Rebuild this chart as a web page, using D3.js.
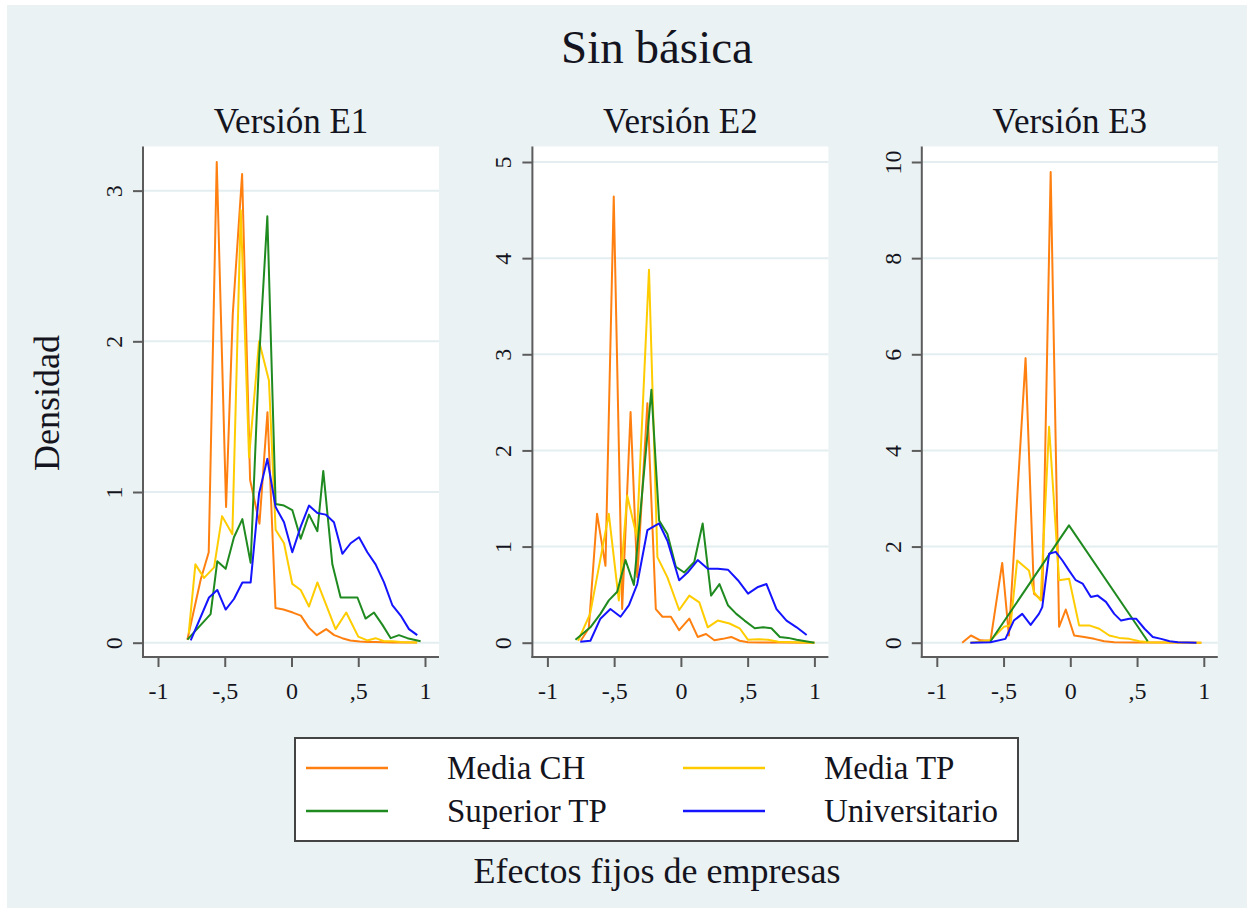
<!DOCTYPE html>
<html>
<head>
<meta charset="utf-8">
<script src="https://cdn.jsdelivr.net/npm/d3@7"></script>
<style>
body { margin: 0; background: #fff; }
text { font-family: "Liberation Serif", "Times New Roman", serif; fill: #141420; }
</style>
</head>
<body>
<svg id="chart" width="1253" height="913"></svg>
<script>
var seriesNames = ["Media CH", "Media TP", "Superior TP", "Universitario"];
var seriesColors = ["#ff8010", "#ffcc00", "#1f8a1f", "#1414ff"];
var panelTitles = ["Versión E1", "Versión E2", "Versión E3"];
var xTicks = [-1, -0.5, 0, 0.5, 1];
var xTickLabels = ["-1", "-,5", "0", ",5", "1"];
var yTicksE1 = [0, 1, 2, 3];
var yTicksE2 = [0, 1, 2, 3, 4, 5];
var yTicksE3 = [0, 2, 4, 6, 8, 10];

// [efecto fijo, densidad]
var e1MediaCH = [[-0.78,0.02],[-0.68,0.42],[-0.62,0.6],[-0.56,3.19],[-0.49,0.9],[-0.44,2.18],[-0.37,3.11],[-0.31,1.08],[-0.24,0.79],[-0.18,1.53],[-0.12,0.23],[-0.06,0.22],[0.01,0.2],[0.07,0.18],[0.13,0.1],[0.19,0.05],[0.26,0.09],[0.32,0.05],[0.38,0.03],[0.44,0.015],[0.51,0.008],[0.57,0.005],[0.63,0.004],[0.69,0.003],[0.76,0.002],[0.82,0.002],[0.88,0.001],[0.94,0.001]];
var e1MediaTP = [[-0.77,0.06],[-0.72,0.52],[-0.655,0.43],[-0.58,0.5],[-0.52,0.84],[-0.443,0.72],[-0.38,2.87],[-0.318,1.23],[-0.243,2.0],[-0.169,1.74],[-0.119,0.75],[-0.056,0.66],[0.006,0.39],[0.069,0.35],[0.131,0.24],[0.194,0.4],[0.256,0.26],[0.33,0.09],[0.41,0.2],[0.5,0.04],[0.568,0.015],[0.63,0.03],[0.693,0.01],[0.755,0.01],[0.818,0.005],[0.88,0.003],[0.942,0.002]];
var e1SuperiorTP = [[-0.78,0.02],[-0.606,0.19],[-0.556,0.54],[-0.493,0.49],[-0.431,0.7],[-0.368,0.82],[-0.306,0.53],[-0.243,1.88],[-0.181,2.83],[-0.119,0.92],[-0.056,0.91],[0.006,0.88],[0.069,0.69],[0.131,0.85],[0.194,0.74],[0.238,1.14],[0.306,0.52],[0.368,0.3],[0.431,0.3],[0.494,0.3],[0.555,0.16],[0.618,0.2],[0.68,0.12],[0.743,0.03],[0.805,0.05],[0.868,0.03],[0.967,0.01]];
var e1Universitario = [[-0.755,0.015],[-0.618,0.3],[-0.556,0.35],[-0.493,0.22],[-0.431,0.29],[-0.368,0.4],[-0.306,0.4],[-0.243,0.99],[-0.181,1.22],[-0.119,0.9],[-0.056,0.8],[0.006,0.6],[0.069,0.77],[0.131,0.91],[0.194,0.86],[0.256,0.85],[0.318,0.8],[0.381,0.59],[0.443,0.66],[0.506,0.7],[0.568,0.6],[0.63,0.52],[0.693,0.4],[0.755,0.25],[0.818,0.18],[0.88,0.09],[0.942,0.05]];

var e2MediaCH = [[-0.75,0.02],[-0.69,0.15],[-0.628,1.34],[-0.565,0.8],[-0.503,4.64],[-0.44,0.35],[-0.377,2.4],[-0.327,0.68],[-0.251,2.49],[-0.188,0.35],[-0.138,0.27],[-0.075,0.27],[-0.013,0.13],[0.063,0.25],[0.126,0.06],[0.188,0.09],[0.251,0.025],[0.314,0.04],[0.377,0.06],[0.44,0.02],[0.503,0.005],[0.6,0.003],[0.75,0.002],[1.0,0.0]];
var e2MediaTP = [[-0.77,0.02],[-0.68,0.3],[-0.54,1.34],[-0.465,0.44],[-0.402,1.53],[-0.33,1.1],[-0.239,3.88],[-0.176,0.89],[-0.101,0.68],[-0.013,0.34],[0.063,0.49],[0.138,0.42],[0.201,0.16],[0.276,0.23],[0.364,0.2],[0.44,0.15],[0.503,0.03],[0.578,0.035],[0.653,0.03],[0.729,0.01],[1.0,0.0]];
var e2SuperiorTP = [[-0.79,0.03],[-0.678,0.16],[-0.603,0.3],[-0.54,0.44],[-0.477,0.53],[-0.415,0.86],[-0.352,0.6],[-0.221,2.63],[-0.163,1.27],[-0.101,1.13],[-0.038,0.79],[0.025,0.73],[0.1,0.84],[0.163,1.24],[0.226,0.49],[0.289,0.61],[0.352,0.39],[0.415,0.3],[0.477,0.23],[0.553,0.15],[0.616,0.16],[0.678,0.15],[0.741,0.06],[0.804,0.05],[0.867,0.03],[1.0,0.0]];
var e2Universitario = [[-0.754,0.01],[-0.678,0.02],[-0.603,0.25],[-0.528,0.35],[-0.452,0.27],[-0.389,0.39],[-0.327,0.61],[-0.251,1.17],[-0.163,1.24],[-0.101,1.06],[-0.013,0.65],[0.05,0.73],[0.126,0.86],[0.201,0.77],[0.276,0.77],[0.352,0.76],[0.427,0.65],[0.503,0.51],[0.578,0.58],[0.641,0.61],[0.716,0.35],[0.791,0.23],[0.867,0.16],[0.942,0.08]];

var e3MediaCH = [[-0.81,0.0],[-0.744,0.15],[-0.674,0.05],[-0.598,0.04],[-0.51,1.66],[-0.46,0.15],[-0.335,5.92],[-0.272,1.02],[-0.21,0.88],[-0.147,9.79],[-0.084,0.33],[-0.034,0.69],[0.029,0.15],[0.104,0.12],[0.179,0.08],[0.254,0.03],[0.329,0.01],[0.5,0.005],[0.7,0.003],[0.982,0.0]];
var e3MediaTP = [[-0.749,0.0],[-0.598,0.05],[-0.498,0.33],[-0.448,0.36],[-0.398,1.71],[-0.31,1.5],[-0.272,1.05],[-0.222,0.88],[-0.159,4.49],[-0.084,1.3],[-0.009,1.33],[0.066,0.36],[0.142,0.36],[0.217,0.29],[0.292,0.15],[0.367,0.1],[0.442,0.08],[0.518,0.03],[0.593,0.01],[0.982,0.0]];
var e3SuperiorTP = [[-0.6,0.02],[-0.01,2.44],[0.58,0.03]];
var e3Universitario = [[-0.749,0.0],[-0.598,0.01],[-0.486,0.08],[-0.423,0.46],[-0.36,0.6],[-0.297,0.37],[-0.235,0.6],[-0.21,0.74],[-0.159,1.85],[-0.109,1.89],[-0.059,1.71],[-0.009,1.5],[0.041,1.3],[0.092,1.23],[0.154,0.95],[0.205,0.98],[0.267,0.85],[0.329,0.6],[0.38,0.46],[0.442,0.5],[0.493,0.5],[0.556,0.29],[0.618,0.12],[0.681,0.08],[0.744,0.03],[0.806,0.01],[0.945,0.0]];

var panels = [
    {title: panelTitles[0], yTicks: yTicksE1, series: [e1MediaCH, e1MediaTP, e1SuperiorTP, e1Universitario]},
    {title: panelTitles[1], yTicks: yTicksE2, series: [e2MediaCH, e2MediaTP, e2SuperiorTP, e2Universitario]},
    {title: panelTitles[2], yTicks: yTicksE3, series: [e3MediaCH, e3MediaTP, e3SuperiorTP, e3Universitario]}
];

var svg = d3.select("#chart");
var axisColor = "#5c5c5c";

svg.append("rect").attr("width", 1253).attr("height", 913).attr("fill", "#fff");
svg.append("rect")
    .attr("x", 7).attr("y", 5)
    .attr("width", 1240).attr("height", 903)
    .attr("fill", "#eaf2f3");

svg.append("text")
    .attr("x", 657).attr("y", 63)
    .attr("text-anchor", "middle")
    .style("font-size", "47px")
    .text("Sin básica");

var plotTop = 146.5, plotBottom = 657, plotW = 296;

panels.forEach(function(p, i) {
    var left = 143 + i * 389.4;
    var x = d3.scaleLinear().domain([-1, 1]).range([left + 15, left + 282]);
    var dataMax = d3.max(p.series, function(s) { return d3.max(s, function(d) { return d[1]; }); });
    var yMax = Math.max(dataMax, d3.max(p.yTicks));
    var y = d3.scaleLinear().domain([0, yMax]).range([642.7, 162]);

    var g = svg.append("g");

    g.append("rect")
        .attr("x", left).attr("y", plotTop)
        .attr("width", plotW).attr("height", plotBottom - plotTop)
        .attr("fill", "#fff");

    g.selectAll("line.grid")
        .data(p.yTicks)
        .enter()
        .append("line")
        .attr("class", "grid")
        .attr("x1", left).attr("x2", left + plotW)
        .attr("y1", function(d) { return y(d); })
        .attr("y2", function(d) { return y(d); })
        .attr("stroke", "#e4eef0")
        .attr("stroke-width", 2);

    var line = d3.line()
        .x(function(d) { return x(d[0]); })
        .y(function(d) { return y(d[1]); });

    g.selectAll("path.serie")
        .data(p.series)
        .enter()
        .append("path")
        .attr("class", "serie")
        .attr("d", line)
        .attr("fill", "none")
        .attr("stroke", function(d, k) { return seriesColors[k]; })
        .attr("stroke-width", 2)
        .attr("stroke-linejoin", "round");

    // ejes
    var yAxis = g.append("g")
        .attr("transform", "translate(" + left + ",0)")
        .call(d3.axisLeft(y).tickValues(p.yTicks).tickSize(10).tickSizeOuter(0)
            .tickFormat(d3.format("d")));
    yAxis.select(".domain").remove();
    yAxis.selectAll("line").attr("stroke", axisColor).attr("stroke-width", 2);
    yAxis.selectAll("text")
        .attr("transform", "rotate(-90)")
        .attr("x", 0).attr("y", -21).attr("dy", 0)
        .attr("text-anchor", "middle")
        .attr("fill", "#141420")
        .style("font-size", "24px")
        .style("font-family", "'Liberation Serif', serif");

    var xAxis = g.append("g")
        .attr("transform", "translate(0," + plotBottom + ")")
        .call(d3.axisBottom(x).tickValues(xTicks).tickSize(10).tickSizeOuter(0)
            .tickFormat(function(d, k) { return xTickLabels[k]; }));
    xAxis.select(".domain").remove();
    xAxis.selectAll("line").attr("stroke", axisColor).attr("stroke-width", 2);
    xAxis.selectAll("text")
        .attr("y", 42).attr("dy", 0)
        .attr("fill", "#141420")
        .style("font-size", "24px")
        .style("font-family", "'Liberation Serif', serif");

    g.append("line")
        .attr("x1", left).attr("x2", left)
        .attr("y1", plotTop).attr("y2", plotBottom + 1)
        .attr("stroke", axisColor).attr("stroke-width", 2);
    g.append("line")
        .attr("x1", left - 1).attr("x2", left + plotW)
        .attr("y1", plotBottom).attr("y2", plotBottom)
        .attr("stroke", axisColor).attr("stroke-width", 2);

    g.append("text")
        .attr("x", left + plotW / 2).attr("y", 133)
        .attr("text-anchor", "middle")
        .style("font-size", "35px")
        .text(p.title);
});

svg.append("text")
    .attr("transform", "translate(59,403) rotate(-90)")
    .attr("text-anchor", "middle")
    .style("font-size", "36px")
    .text("Densidad");

svg.append("text")
    .attr("x", 657).attr("y", 883)
    .attr("text-anchor", "middle")
    .style("font-size", "36px")
    .text("Efectos fijos de empresas");

// leyenda
var legend = svg.append("g");
legend.append("rect")
    .attr("x", 295).attr("y", 738)
    .attr("width", 723).attr("height", 103)
    .attr("fill", "#fff")
    .attr("stroke", "#444")
    .attr("stroke-width", 2);

var legendItems = legend.selectAll("g.item")
    .data(seriesNames)
    .enter()
    .append("g")
    .attr("class", "item")
    .attr("transform", function(d, k) {
        return "translate(" + (k % 2 == 0 ? 306 : 683) + "," + (k < 2 ? 768 : 811) + ")";
    });

legendItems.append("line")
    .attr("x1", 0).attr("x2", 82)
    .attr("y1", 0).attr("y2", 0)
    .attr("stroke", function(d, k) { return seriesColors[k]; })
    .attr("stroke-width", 2.5);

legendItems.append("text")
    .attr("x", 141).attr("y", 11)
    .style("font-size", "33px")
    .text(function(d) { return d; });
</script>
</body>
</html>
